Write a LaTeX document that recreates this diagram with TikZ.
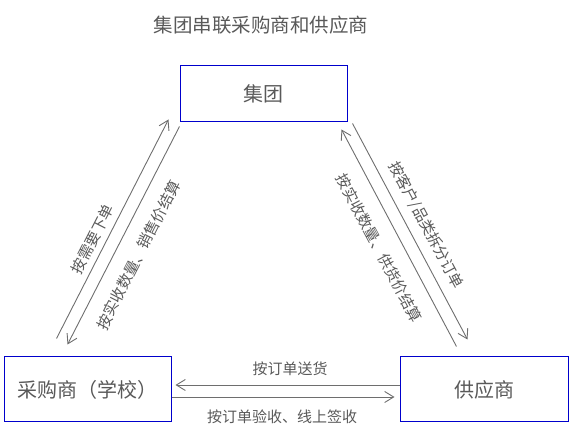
\documentclass[tikz,border=0pt]{standalone}
\usepackage{fontspec}
\newfontfamily\cjk{Noto Sans CJK SC}
\usetikzlibrary{arrows.meta,positioning,calc}
\definecolor{boxblue}{HTML}{0000CC}
\definecolor{txtgray}{HTML}{595959}
\definecolor{linegray}{HTML}{6E6E6E}
\newcommand{\bigcjk}{\cjk\fontsize{20pt}{24pt}\selectfont}
\newcommand{\smallcjk}{\cjk\fontsize{15pt}{18pt}\selectfont}

\begin{document}
\begin{tikzpicture}[x=1pt,y=-1pt,>={Straight Barb[length=9pt,width=11pt]},
  party/.style={draw=boxblue,line width=1pt,minimum width=167pt,text=txtgray,font=\bigcjk,inner sep=0pt},
  arr/.style={->,draw=linegray,line width=0.9pt},
  lbl/.style={text=txtgray,font=\smallcjk,inner sep=0pt}]
 \useasboundingbox (0,0) rectangle (571,435);
 \node[text=txtgray,font=\cjk\fontsize{19.5pt}{23pt}\selectfont] (title) at (261,25) {集团串联采购商和供应商};
 \node[party,minimum height=56pt] (group) at (263.5,94) {集团};
 \node[party,minimum height=65pt] (buyer) at (87.5,389.5) {采购商（学校）};
 \node[party,minimum height=65pt,minimum width=168pt] (supplier) at (484,389.5) {供应商};
 % group <-> buyer
 \draw[arr] ($(buyer.north west)+(53,-18)$) -- ($(group.south west)+(-11,-3)$);
 \draw[arr] ($(group.south west)+(0,4)$) -- ($(buyer.north west)+(64,-12)$);
 \node[lbl,rotate=63] (order) at (92.5,239) {按需要下单};
 \node[lbl,rotate=63] (settleb) at (138.5,255) {按实收数量、销售价结算};
 % group <-> supplier
 \draw[arr] ($(supplier.north west)+(57,-10)$) -- ($(group.south east)+(-6,7)$);
 \draw[arr] ($(group.south east)+(5,1)$) -- ($(supplier.north west)+(68,-17)$);
 \node[lbl,rotate=-62] (split) at (426,225) {按客户/品类拆分订单};
 \node[lbl,rotate=-62] (settles) at (379,248) {按实收数量、供货价结算};
 % buyer <-> supplier
 \draw[arr] ($(supplier.west)+(0,-4.5)$) -- ($(buyer.east)+(4,-4.5)$);
 \draw[arr] ($(buyer.east)+(0,7.5)$) -- ($(supplier.west)+(-5,7.5)$);
 \node[lbl] (deliver) at (290,369) {按订单送货};
 \node[lbl] (accept) at (282,417) {按订单验收、线上签收};
\end{tikzpicture}
\end{document}
